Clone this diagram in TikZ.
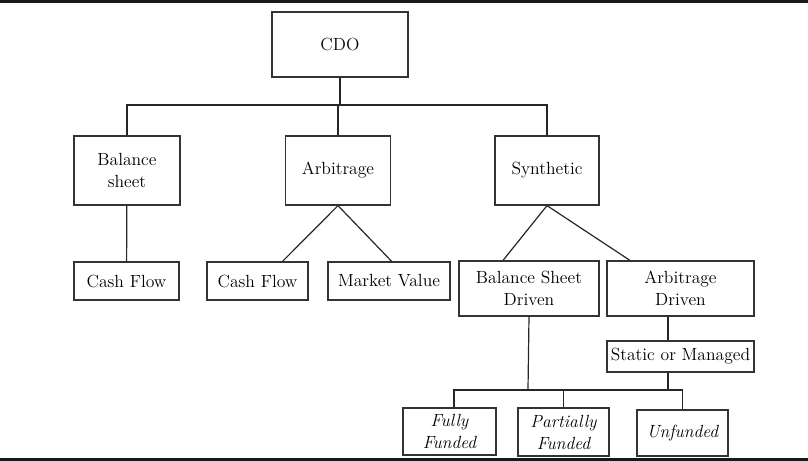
\documentclass[tikz,border=0pt]{standalone}
\begin{document}
\begin{tikzpicture}[x=0.75pt,y=-0.75pt,
    box/.style={draw=black!80,line width=0.9pt,align=center,inner sep=0pt,
      font=\fontsize{13.2}{16.5}\selectfont},
    itbox/.style={box,font=\fontsize{13.2}{16.5}\selectfont\itshape},
    link/.style={draw=black!85,line width=0.9pt},
    rule/.style={draw=black!90,line width=2.4pt}]
            \useasboundingbox (0,0) rectangle (808,461);
            \draw[rule] (0,1.5) -- (808,1.5);
            \draw[rule] (0,459.5) -- (808,459.5);
            \node[box,minimum width=102pt,minimum height=48.75pt] (cdo) at (340,44.5) {CDO};
            \node[box,minimum width=79.5pt,minimum height=51.75pt] (bal) at (127,170.5) {Balance\\sheet};
            \node[box,minimum width=78.75pt,minimum height=51.75pt] (arb) at (338,170.5) {Arbitrage};
            \node[box,minimum width=78pt,minimum height=51.75pt] (syn) at (547,170.5) {Synthetic};
            \node[box,minimum width=78.75pt,minimum height=28.5pt] (cfa) at (126.5,281) {Cash Flow};
            \node[box,minimum width=75.75pt,minimum height=28.5pt] (cfb) at (257.5,281) {Cash Flow};
            \node[box,minimum width=91.5pt,minimum height=28.5pt] (mv) at (389,281) {Market Value};
            \node[box,minimum width=105pt,minimum height=41.25pt] (bsd) at (529,288.5) {Balance Sheet\\Driven};
            \node[box,minimum width=110.25pt,minimum height=41.25pt] (ad) at (680.5,288.5) {Arbitrage\\Driven};
            \node[box,minimum width=110.25pt,minimum height=23.25pt] (som) at (680.5,356.5) {Static or Managed};
            \node[itbox,minimum width=69.75pt,minimum height=35.25pt] (ff) at (449.5,431.5) {Fully\\Funded};
            \node[itbox,minimum width=68.25pt,minimum height=36pt] (pf) at (563.5,432) {Partially\\Funded};
            \node[itbox,minimum width=68.25pt,minimum height=34.5pt] (uf) at (682.5,433) {Unfunded};
            \coordinate (top) at (340,105);
            \coordinate (low) at (528,390);
            \draw[link] (cdo) -- (top);
            \draw[link] (bal.north) |- (top) -| (syn.north);
            \draw[link] (arb.north) -- (arb.north |- top);
            \draw[link] (bal) -- (cfa);
            \draw[link] (arb.south) -- ([xshift=18.75pt]cfb.north);
            \draw[link] (arb.south) -- ([xshift=2pt]mv.north);
            \draw[link] (syn.south) -- ([xshift=-19.5pt]bsd.north);
            \draw[link] (syn.south) -- ([xshift=-37.9pt]ad.north);
            \draw[link] ([xshift=-9.4pt]ad.south) -- ([xshift=-9.4pt]som.north);
            \draw[link] (bsd.south) -- (low);
            \draw[link] ([xshift=3.4pt]ff.north) |- (low) -| (uf.north);
            \draw[link] (pf.north) -- (pf.north |- low);
            \draw[link] ([xshift=-9.4pt]som.south) -- ([xshift=-9.4pt]som.south |- low);
        \end{tikzpicture}
\end{document}
